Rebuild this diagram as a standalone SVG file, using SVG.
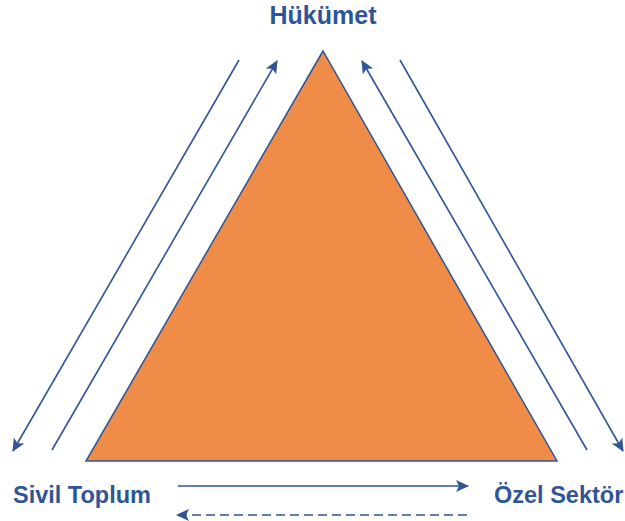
<svg xmlns="http://www.w3.org/2000/svg" width="625" height="521" viewBox="0 0 625 521">
<style>
.lbl{font-family:"Liberation Sans",Arial,sans-serif;font-weight:bold;font-size:25px;fill:#2F5597}
.sm{font-size:23.5px}
.ln{stroke:#2F5597;stroke-width:1.6;fill:none}
.dash{stroke-dasharray:9,5}
</style>
<defs>
<marker id="ah" markerUnits="userSpaceOnUse" markerWidth="14" markerHeight="12" refX="12" refY="6" orient="auto">
<path d="M0,0 L13,6 L0,12 L3,6 Z" fill="#2F5597"/>
</marker>
</defs>
<rect width="625" height="521" fill="#fff"/>
<g id="triangle">
<polygon points="323,51 86,461 557,461" fill="#EE8C48" stroke="#2F5597" stroke-width="1.5"/>
</g>
<g id="hukumet"><text class="lbl" x="323" y="24" text-anchor="middle">Hükümet</text></g>
<g id="sivil"><text class="lbl sm" x="13" y="503">Sivil Toplum</text></g>
<g id="ozel"><text class="lbl sm" x="494" y="503">Özel Sektör</text></g>
<g id="connectors">
<line class="ln" x1="239" y1="60" x2="13" y2="451" marker-end="url(#ah)"/>
<line class="ln" x1="52" y1="450" x2="277" y2="61" marker-end="url(#ah)"/>
<line class="ln" x1="587" y1="450" x2="362" y2="61" marker-end="url(#ah)"/>
<line class="ln" x1="400" y1="60" x2="623" y2="451" marker-end="url(#ah)"/>
<line class="ln" x1="178" y1="486" x2="468" y2="486" marker-end="url(#ah)"/>
<line class="ln dash" x1="467" y1="515" x2="177" y2="515" marker-end="url(#ah)"/>
</g>
</svg>
